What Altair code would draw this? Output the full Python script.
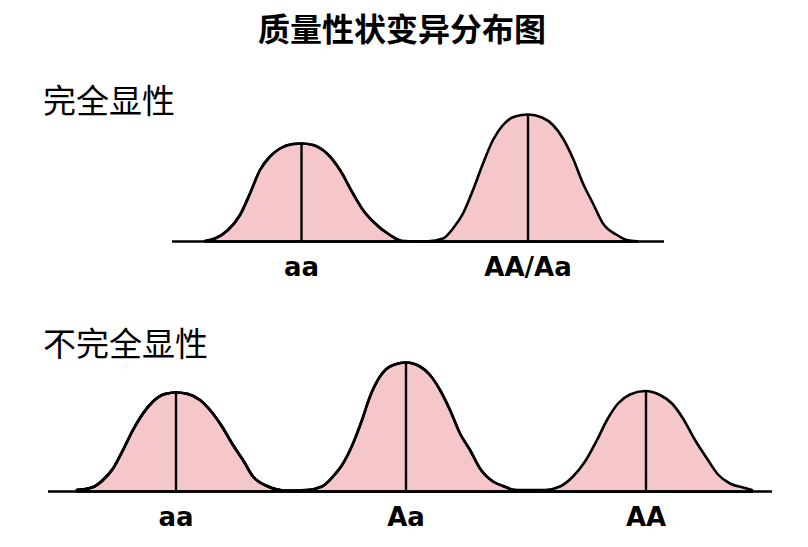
import altair as alt
import pandas as pd

# ---------- data ----------
TITLE = "质量性状变异分布图"
SECTION_TOP = "完全显性"
SECTION_BOTTOM = "不完全显性"

# top section (complete dominance)
top_labels = ["aa", "AA/Aa"]
top_aa_x = [205, 215, 228, 240, 250, 260, 270, 280, 293, 301.5, 313, 327, 340, 353, 363, 373, 390, 402]
top_aa_h = [0.5, 3, 11.5, 26.5, 48, 71.5, 85, 93, 97.5, 98, 96.5, 88, 71.5, 48, 31.5, 20, 6.5, 0.5]
top_AA_x = [428, 443, 453, 463, 473, 483, 493, 503, 515, 528, 542, 553, 563, 573, 583, 593, 603, 617, 627, 637]
top_AA_h = [0.3, 3, 13, 28, 51.5, 78, 101.5, 116.5, 125, 127, 124, 116.5, 103, 83, 58, 38, 18, 6.5, 1.5, 0.3]
top_centers = [301.5, 528]
top_peaks = [98, 127]
top_base = [172, 664]

# bottom section (incomplete dominance)
bot_labels = ["aa", "Aa", "AA"]
bot_aa_x = [77, 92, 103, 113, 123, 133, 143, 153, 165, 176, 188, 200, 210, 222, 233, 243, 253, 267, 285]
bot_aa_h = [1.5, 4, 11.5, 23, 41.5, 61.5, 78, 90, 97.5, 99, 97.5, 91.5, 81.5, 65, 46.5, 31.5, 15, 5.5, 0.8]
bot_Aa_x = [307, 322, 333, 343, 353, 362, 370, 380, 390, 406, 420, 430, 440, 450, 460, 470, 480, 493, 503, 515]
bot_Aa_h = [1.5, 5, 15, 28, 48, 71.5, 95, 115, 125, 129, 125, 116.5, 101.5, 81.5, 58, 41.5, 23, 10, 5.5, 1.5]
bot_AA_x = [545, 560, 573, 585, 597, 607, 618, 630, 645, 660, 672, 683, 695, 707, 718, 730, 743, 752]
bot_AA_h = [1.5, 5, 15, 30, 51.5, 71.5, 88, 97, 100.5, 96.5, 88, 73, 51.5, 33, 17, 8, 4, 1.5]
bot_centers = [176, 406, 646]
bot_peaks = [99, 129, 100]
bot_base = [48, 772]

FILL = "#F5C7CB"
LABEL_FONT = "DejaVu Sans"
CJK_FONT = "Noto Sans CJK SC"


def curves_df(xs_list, hs_list, names):
    rows = []
    for xs, hs, n in zip(xs_list, hs_list, names):
        for x, h in zip(xs, hs):
            rows.append({"x": x, "h": h, "g": n})
    return pd.DataFrame(rows)


def panel(curves, centers, peaks, labels, base, height, ydom, header, header_y, label_y, title=None):
    xs = alt.X("x:Q", scale=alt.Scale(domain=[8, 800]), axis=None)
    ys = alt.Y("h:Q", scale=alt.Scale(domain=ydom), axis=None)

    area = alt.Chart(curves).mark_area(
        fill=FILL, stroke="black", strokeWidth=2.6, interpolate="monotone", strokeJoin="round"
    ).encode(x=xs, y=ys, detail="g:N")

    peaks_df = pd.DataFrame({"x": centers, "h": peaks, "z": [0] * len(centers), "label": labels})
    rules = alt.Chart(peaks_df).mark_rule(color="black", strokeWidth=2.4).encode(
        x=xs, y=ys, y2="z:Q"
    )
    base_df = pd.DataFrame({"x": [base[0]], "x2": [base[1]], "h": [0]})
    baseline = alt.Chart(base_df).mark_rule(color="black", strokeWidth=2.6).encode(
        x=xs, x2="x2:Q", y=ys
    )
    texts = alt.Chart(peaks_df).mark_text(
        font=LABEL_FONT, fontSize=26, fontWeight="bold", color="black", baseline="middle"
    ).encode(x=xs, y=alt.value(label_y), text="label:N")

    head = alt.Chart(pd.DataFrame({"t": [header]})).mark_text(
        font=CJK_FONT, fontSize=33, color="black", align="left", baseline="middle"
    ).encode(x=alt.value(35), y=alt.value(header_y), text="t:N")

    layers = [area, rules, baseline, texts, head]
    if title:
        tt = alt.Chart(pd.DataFrame({"t": [title]})).mark_text(
            font=CJK_FONT, fontSize=32, fontWeight="bold", color="black", align="center", baseline="middle"
        ).encode(x=alt.value(394), y=alt.value(23), text="t:N")
        layers.append(tt)
    return alt.layer(*layers).properties(width=792, height=height)


top_curves = curves_df([top_aa_x, top_AA_x], [top_aa_h, top_AA_h], top_labels)
bot_curves = curves_df([bot_aa_x, bot_Aa_x, bot_AA_x], [bot_aa_h, bot_Aa_h, bot_AA_h], bot_labels)

top = panel(top_curves, top_centers, top_peaks, top_labels, top_base, 282, [-48.5, 233.5],
            SECTION_TOP, 95, 260, title=TITLE)
bottom = panel(bot_curves, bot_centers, bot_peaks, bot_labels, bot_base, 249, [-47.5, 201.5],
               SECTION_BOTTOM, 56, 228)

chart = alt.vconcat(top, bottom, spacing=0).properties(padding=0).configure_view(stroke=None)

chart.save("out.html", embed_options={"renderer": "svg", "actions": False})
